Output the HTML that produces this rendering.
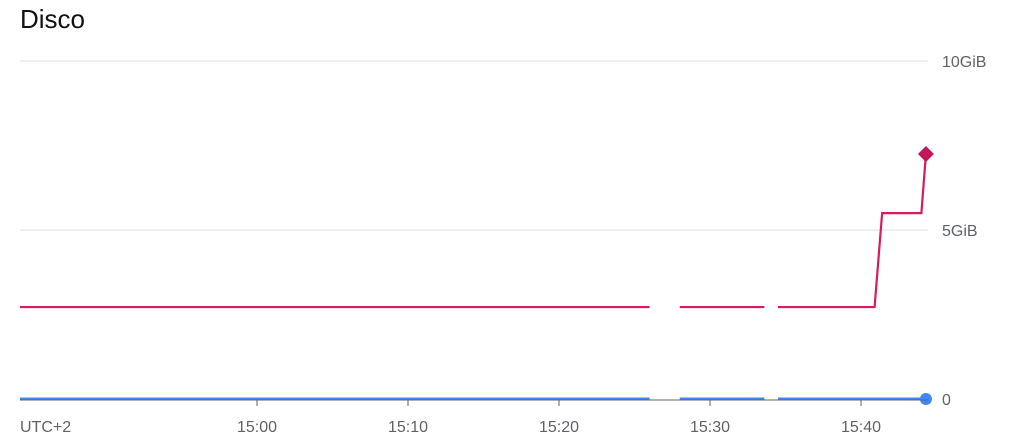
<!DOCTYPE html>
<html><head><meta charset="utf-8"><style>
body{margin:0;background:#fff;width:1026px;height:440px;overflow:hidden;font-family:"Liberation Sans",sans-serif}
</style></head><body>
<svg width="1026" height="440">
<text x="20" y="28" font-size="26" fill="#111">Disco</text>
<g id="grid"></g><g id="series"></g><g id="xaxis"></g>
</svg>
<script>
const yTicks=[0,5,10];
const yTickLabels=["0","5GiB","10GiB"];
const xTicks=[20,30,40,50,60];
const xTickLabels=["15:00","15:10","15:20","15:30","15:40"];
// minutes after 14:40
const times=[4.3,46,48,53.6,54.5,60.9,61.4,64,64.3];
const usedGiB=[2.72,2.72,2.72,2.72,2.72,2.72,5.5,5.5,7.25];
const otherGiB=[0,0,0,0,0,0,0,0,0];
const segments=[[0,1],[2,3],[4,8]];
const NS="http://www.w3.org/2000/svg";
const X=m=>257+(m-20)*15.1;
const Y=v=>399-v*33.8;
function mk(tag,attrs,parent){const e=document.createElementNS(NS,tag);for(const k in attrs)e.setAttribute(k,attrs[k]);parent.appendChild(e);return e;}
const grid=document.getElementById('grid'),ser=document.getElementById('series'),xa=document.getElementById('xaxis');
yTicks.forEach((v,i)=>{
  if(v>0){const l=mk('line',{x1:20,x2:928,y1:Y(v),y2:Y(v),stroke:'#e8eaed','stroke-width':1.5},grid);
  
  }
  const t=mk('text',{x:942,y:Y(v)+6,'font-size':16,fill:'#5f6368'},grid);t.textContent=yTickLabels[i];
  
  
});
const ax=mk('line',{x1:20,x2:928,y1:400,y2:400,stroke:'#5f6368','stroke-width':1},xa);


const u=mk('text',{x:20,y:432,'font-size':16,fill:'#5f6368'},xa);u.textContent='UTC+2';


xTicks.forEach((m,i)=>{
  const tk=mk('line',{x1:X(m),x2:X(m),y1:400,y2:406,stroke:'#5f6368'},xa);
  
  
  const t=mk('text',{x:X(m),y:432,'font-size':16,fill:'#5f6368','text-anchor':'middle'},xa);t.textContent=xTickLabels[i];
  
  
});
function draw(vals,color,w,name){
  segments.forEach(([a,b])=>{
    let d='';for(let i=a;i<=b;i++)d+=(i==a?'M':'L')+X(times[i])+','+Y(vals[i]);
    const p=mk('path',{d:d,fill:'none',stroke:color,'stroke-width':w},ser);
    
    
  });
}
draw(otherGiB,'#4285f4',3,'blue-series-line');
draw(usedGiB,'#d81b60',2.2,'red-series-line');
const n=times.length-1;
const dot=mk('circle',{cx:X(times[n]),cy:Y(otherGiB[n]),r:6,fill:'#4285f4'},ser);


const cx=X(times[n]),cy=Y(usedGiB[n]);
const dm=mk('path',{d:`M${cx},${cy-8}L${cx+8},${cy}L${cx},${cy+8}L${cx-8},${cy}Z`,fill:'#c2185b'},ser);


</script>
</body></html>
